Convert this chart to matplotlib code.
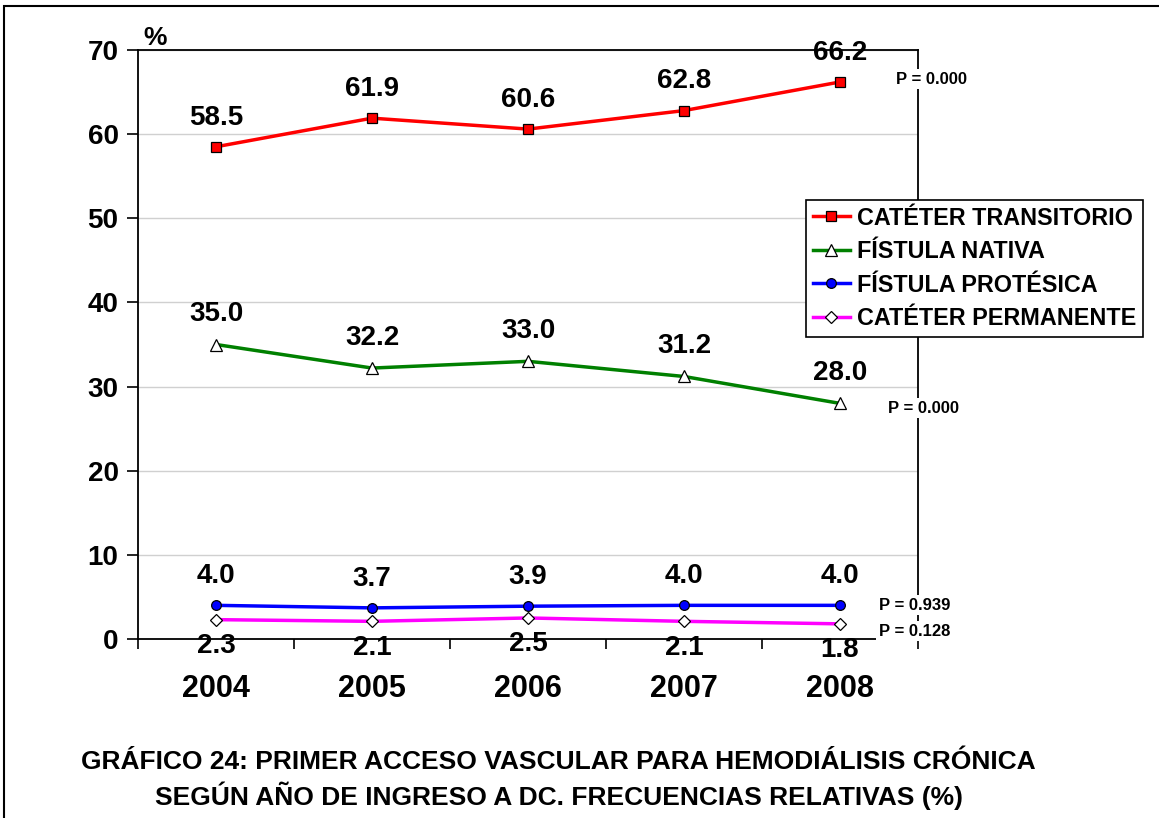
import matplotlib
matplotlib.use("Agg")
import matplotlib.pyplot as plt
from matplotlib.patches import Rectangle

plt.rcParams['font.family'] = ['Liberation Sans', 'DejaVu Sans']
plt.rcParams['font.weight'] = 'bold'

years = ["2004", "2005", "2006", "2007", "2008"]
cateter_transitorio = [58.5, 61.9, 60.6, 62.8, 66.2]
fistula_nativa = [35.0, 32.2, 33.0, 31.2, 28.0]
fistula_protesica = [4.0, 3.7, 3.9, 4.0, 4.0]
cateter_permanente = [2.3, 2.1, 2.5, 2.1, 1.8]
series_names = ["CATÉTER TRANSITORIO", "FÍSTULA NATIVA", "FÍSTULA PROTÉSICA", "CATÉTER PERMANENTE"]
p_values = ["P = 0.000", "P = 0.000", "P = 0.939", "P = 0.128"]
y_ticks = [0, 10, 20, 30, 40, 50, 60, 70]
title_lines = ["GRÁFICO 24: PRIMER ACCESO VASCULAR PARA HEMODIÁLISIS CRÓNICA",
               "SEGÚN AÑO DE INGRESO A DC. FRECUENCIAS RELATIVAS (%)"]

W, H = 1159, 818
fig = plt.figure(figsize=(W / 100, H / 100), dpi=100)

# figure outer border (left/top visible)
fig.patches.append(Rectangle((4 / W, -0.05), 1.2, 1 - 6 / H + 0.05, transform=fig.transFigure,
                             fill=False, edgecolor='black', linewidth=1.5, zorder=0))

ax = fig.add_axes([138 / W, 1 - 639 / H, (918 - 138) / W, (639 - 50) / H])
x = list(range(len(years)))

styles = [
    dict(color='#ff0000', marker='s', mfc='#ff0000', ms=7),
    dict(color='#008000', marker='^', mfc='white', ms=8),
    dict(color='#0000ff', marker='o', mfc='#0000ff', ms=7),
    dict(color='#ff00ff', marker='D', mfc='white', ms=6),
]
data = [cateter_transitorio, fistula_nativa, fistula_protesica, cateter_permanente]
handles = []
for vals, st, name in zip(data, styles, series_names):
    h, = ax.plot(x, vals, color=st['color'], lw=2.5, marker=st['marker'], mfc=st['mfc'],
                 mec='black', mew=0.9, ms=st['ms'], label=name, zorder=3, clip_on=False)
    handles.append(h)

LBL = 20
for i, v in enumerate(cateter_transitorio):
    ax.annotate(f"{v:.1f}", (i, v), xytext=(0, 21), textcoords='offset points',
                ha='center', va='center', fontsize=LBL, fontweight='bold')
for i, v in enumerate(fistula_nativa):
    ax.annotate(f"{v:.1f}", (i, v), xytext=(0, 22), textcoords='offset points',
                ha='center', va='center', fontsize=LBL, fontweight='bold')
for i, v in enumerate(fistula_protesica):
    ax.annotate(f"{v:.1f}", (i, v), xytext=(0, 21), textcoords='offset points',
                ha='center', va='center', fontsize=LBL, fontweight='bold')
for i, v in enumerate(cateter_permanente):
    ax.annotate(f"{v:.1f}", (i, v), xytext=(0, -19), textcoords='offset points',
                ha='center', va='center', fontsize=LBL, fontweight='bold', zorder=4)

ax.set_xlim(-0.5, len(years) - 0.5)
ax.set_ylim(0, 70)
ax.set_yticks(y_ticks)
ax.set_yticklabels([str(t) for t in y_ticks], fontsize=20, fontweight='bold')
ax.set_xticks(x)
ax.set_xticklabels(years, fontsize=22, fontweight='bold')
ax.tick_params(axis='x', length=0, pad=25)
ax.set_xticks([i + 0.5 for i in range(-1, len(years))], minor=True)
ax.tick_params(axis='x', which='minor', length=7, width=1.2, direction='out')
ax.tick_params(axis='y', length=8, width=1.2, direction='out', pad=6)
ax.grid(axis='y', color='#d0d0d0', lw=1)
ax.set_axisbelow(True)
for s in ax.spines.values():
    s.set_linewidth(1.3)
    s.set_color('black')

ax.text(0.022, 1.0, "%", transform=ax.transAxes, fontsize=19, fontweight='bold',
        ha='center', va='bottom')

p_pos = [(932, 79), (923, 408), (915, 605), (915, 631)]
for (px, py), txt in zip(p_pos, p_values):
    fig.text(px / W, 1 - py / H, txt, fontsize=12, fontweight='bold', ha='center', va='center',
             bbox=dict(facecolor='white', edgecolor='none', pad=2), zorder=5)

leg = fig.legend(handles=handles, labels=series_names, loc='upper left',
                 bbox_to_anchor=(806 / W, 1 - 200 / H), prop=dict(size=16.8, weight='bold'),
                 frameon=True, fancybox=False, edgecolor='black', framealpha=1,
                 handlelength=1.6, handletextpad=0.3, borderpad=0.28, labelspacing=0.45,
                 borderaxespad=0)
leg.get_frame().set_linewidth(1.2)

fig.text(558 / W, 1 - 762 / H, title_lines[0], fontsize=19, fontweight='bold', ha='center', va='center')
fig.text(559 / W, 1 - 796 / H, title_lines[1], fontsize=19, fontweight='bold', ha='center', va='center')

fig.savefig("out.png", dpi=100)
